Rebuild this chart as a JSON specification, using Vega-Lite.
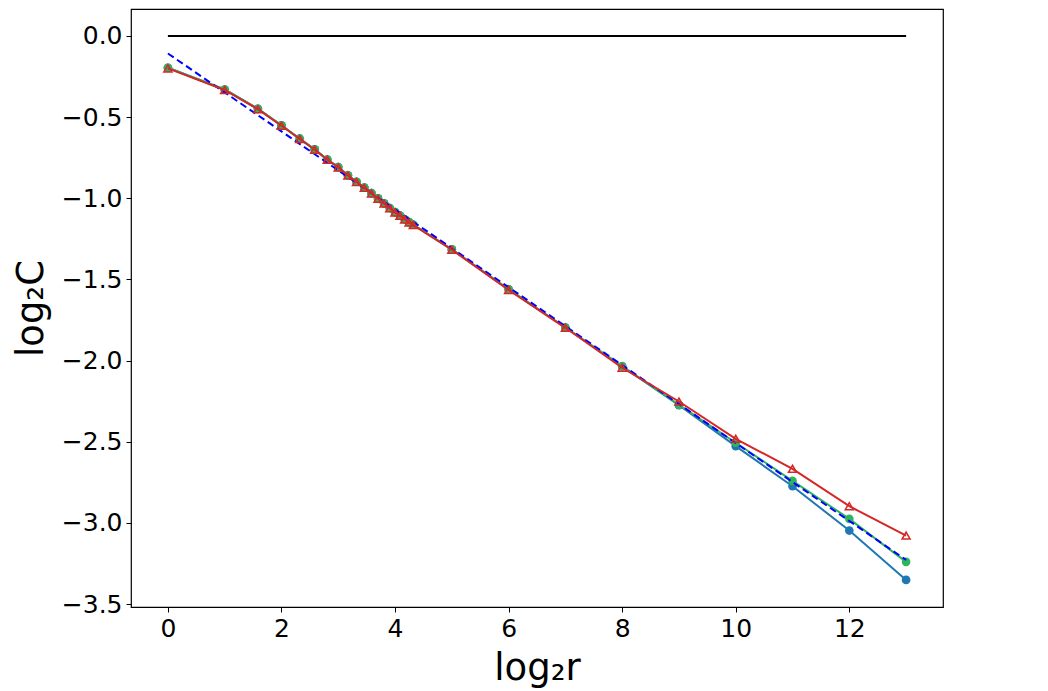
{
  "$schema": "https://vega.github.io/schema/vega-lite/v6.json",
  "autosize": "none",
  "width": 812,
  "height": 598,
  "padding": {"left": 131, "top": 9, "right": 105, "bottom": 84},
  "background": "white",
  "config": {
    "view": {"stroke": "black", "strokeWidth": 1.2},
    "axis": {
      "grid": false,
      "domain": false,
      "labelFont": "DejaVu Sans",
      "labelFontSize": 25,
      "labelColor": "black",
      "tickColor": "black",
      "tickSize": 5,
      "tickWidth": 1,
      "labelPadding": 4,
      "titleFont": "DejaVu Sans",
      "titleFontSize": 37,
      "titleFontWeight": "normal",
      "titleColor": "black"
    }
  },
  "datasets": {
    "ref": [{"x": 0, "y": 0}, {"x": 13, "y": 0}],
    "fit": [{"x": 0, "y": -0.108}, {"x": 13, "y": -3.228}],
    "blue": [
      {"x": 0, "y": -0.196}, {"x": 1, "y": -0.33}, {"x": 1.585, "y": -0.449}, {"x": 2, "y": -0.551},
      {"x": 2.3219, "y": -0.633}, {"x": 2.585, "y": -0.699}, {"x": 2.8074, "y": -0.761}, {"x": 3, "y": -0.808},
      {"x": 3.1699, "y": -0.858}, {"x": 3.3219, "y": -0.898}, {"x": 3.4594, "y": -0.934}, {"x": 3.585, "y": -0.968},
      {"x": 3.7004, "y": -1.001}, {"x": 3.8074, "y": -1.031}, {"x": 3.9069, "y": -1.06}, {"x": 4, "y": -1.085},
      {"x": 4.0875, "y": -1.106}, {"x": 4.1699, "y": -1.129}, {"x": 4.2479, "y": -1.147}, {"x": 4.3219, "y": -1.163},
      {"x": 5, "y": -1.315}, {"x": 6, "y": -1.562}, {"x": 7, "y": -1.796}, {"x": 8, "y": -2.036},
      {"x": 9, "y": -2.275}, {"x": 10, "y": -2.527}, {"x": 11, "y": -2.774}, {"x": 12, "y": -3.047}, {"x": 13, "y": -3.351}
    ],
    "green": [
      {"x": 0, "y": -0.196}, {"x": 1, "y": -0.33}, {"x": 1.585, "y": -0.449}, {"x": 2, "y": -0.551},
      {"x": 2.3219, "y": -0.633}, {"x": 2.585, "y": -0.699}, {"x": 2.8074, "y": -0.761}, {"x": 3, "y": -0.808},
      {"x": 3.1699, "y": -0.858}, {"x": 3.3219, "y": -0.898}, {"x": 3.4594, "y": -0.934}, {"x": 3.585, "y": -0.968},
      {"x": 3.7004, "y": -1.001}, {"x": 3.8074, "y": -1.031}, {"x": 3.9069, "y": -1.06}, {"x": 4, "y": -1.085},
      {"x": 4.0875, "y": -1.106}, {"x": 4.1699, "y": -1.129}, {"x": 4.2479, "y": -1.147}, {"x": 4.3219, "y": -1.163},
      {"x": 5, "y": -1.315}, {"x": 6, "y": -1.56}, {"x": 7, "y": -1.796}, {"x": 8, "y": -2.034},
      {"x": 9, "y": -2.273}, {"x": 10, "y": -2.506}, {"x": 11, "y": -2.741}, {"x": 12, "y": -2.975}, {"x": 13, "y": -3.24}
    ],
    "red": [
      {"x": 0, "y": -0.2}, {"x": 1, "y": -0.333}, {"x": 1.585, "y": -0.451}, {"x": 2, "y": -0.553},
      {"x": 2.3219, "y": -0.635}, {"x": 2.585, "y": -0.701}, {"x": 2.8074, "y": -0.763}, {"x": 3, "y": -0.81},
      {"x": 3.1699, "y": -0.86}, {"x": 3.3219, "y": -0.9}, {"x": 3.4594, "y": -0.936}, {"x": 3.585, "y": -0.97},
      {"x": 3.7004, "y": -1.003}, {"x": 3.8074, "y": -1.033}, {"x": 3.9069, "y": -1.062}, {"x": 4, "y": -1.087},
      {"x": 4.0875, "y": -1.108}, {"x": 4.1699, "y": -1.131}, {"x": 4.2479, "y": -1.149}, {"x": 4.3219, "y": -1.165},
      {"x": 5, "y": -1.317}, {"x": 6, "y": -1.565}, {"x": 7, "y": -1.798}, {"x": 8, "y": -2.044},
      {"x": 9, "y": -2.252}, {"x": 10, "y": -2.482}, {"x": 11, "y": -2.667}, {"x": 12, "y": -2.897}, {"x": 13, "y": -3.078}
    ]
  },
  "encoding": {
    "x": {
      "field": "x", "type": "quantitative",
      "scale": {"domain": [-0.65, 13.65], "nice": false, "zero": false},
      "axis": {"values": [0, 2, 4, 6, 8, 10, 12], "format": "d", "title": "log₂r", "titlePadding": 9}
    },
    "y": {
      "field": "y", "type": "quantitative",
      "scale": {"domain": [-3.518, 0.166], "nice": false, "zero": false},
      "axis": {"values": [0, -0.5, -1, -1.5, -2, -2.5, -3, -3.5], "format": ".1f", "title": "log₂C", "titlePadding": 11}
    }
  },
  "layer": [
    {"data": {"name": "ref"}, "mark": {"type": "line", "color": "black", "strokeWidth": 2}},
    {"data": {"name": "blue"}, "mark": {"type": "line", "color": "#1f77b4", "strokeWidth": 2}},
    {"data": {"name": "blue"}, "mark": {"type": "point", "shape": "circle", "filled": true, "color": "#1f77b4", "opacity": 1, "size": 75}},
    {"data": {"name": "green"}, "mark": {"type": "line", "color": "#2fb35e", "strokeWidth": 2}},
    {"data": {"name": "green"}, "mark": {"type": "point", "shape": "circle", "filled": true, "color": "#2fb35e", "opacity": 1, "size": 75}},
    {"data": {"name": "fit"}, "mark": {"type": "line", "color": "#0000ff", "strokeWidth": 2, "strokeDash": [7, 4]}},
    {"data": {"name": "red"}, "mark": {"type": "line", "color": "#d62728", "strokeWidth": 2}},
    {"data": {"name": "red"}, "mark": {"type": "point", "shape": "triangle-up", "filled": false, "color": "#d62728", "opacity": 1, "strokeWidth": 1.5, "size": 65}}
  ]
}
